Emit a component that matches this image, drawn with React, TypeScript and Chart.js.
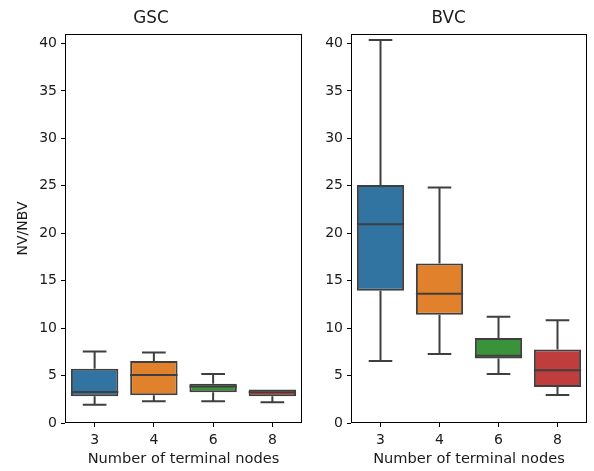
import React, { useEffect, useRef } from "react";
import { Chart, registerables } from "chart.js";

Chart.register(...registerables);

const categories = ["3", "4", "6", "8"];
const boxColors = ["#3274a1", "#e1812c", "#3a923a", "#c03d3e"];

// GSC panel
const gscLow = [1.93, 2.29, 2.29, 2.18];
const gscQ1 = [2.81, 2.92, 3.24, 2.81];
const gscMedian = [3.27, 5.07, 3.84, 3.24];
const gscQ3 = [5.73, 6.54, 4.15, 3.52];
const gscHigh = [7.53, 7.42, 5.17, 3.52];

// BVC panel
const bvcLow = [6.54, 7.28, 5.17, 2.95];
const bvcQ1 = [13.93, 11.4, 6.79, 3.8];
const bvcMedian = [20.96, 13.61, 7.1, 5.56];
const bvcQ3 = [25.08, 16.81, 8.97, 7.74];
const bvcHigh = [40.38, 24.83, 11.19, 10.83];

const yTicks = [0, 5, 10, 15, 20, 25, 30, 35, 40];
const yMin = 0;
const yMax = 41;

const FONT = "'DejaVu Sans', sans-serif";
const TEXT = "#1a1a1a";
const EDGE = "#3f3f3f";

type Panel = {
  title: string;
  low: number[];
  q1: number[];
  median: number[];
  q3: number[];
  high: number[];
  yTitle: string | null;
  yWidth: number;
  padRight: number;
};

function makeConfig(p: Panel): any {
  const boxPlugin = {
    id: "boxExtras",
    afterDatasetsDraw(chart: any) {
      const ctx = chart.ctx;
      const x = chart.scales.x;
      const y = chart.scales.y;
      const meta = chart.getDatasetMeta(0);
      ctx.save();
      ctx.strokeStyle = EDGE;
      ctx.lineWidth = 2;
      ctx.lineCap = "butt";
      categories.forEach((_, i) => {
        const bar = meta.data[i];
        const cx = x.getPixelForValue(i);
        const half = bar.width / 2;
        const capHalf = half / 2;
        const yLow = y.getPixelForValue(p.low[i]);
        const yQ1 = y.getPixelForValue(p.q1[i]);
        const yQ3 = y.getPixelForValue(p.q3[i]);
        const yHigh = y.getPixelForValue(p.high[i]);
        const yMed = y.getPixelForValue(p.median[i]);
        ctx.beginPath();
        // lower whisker
        ctx.moveTo(cx, yQ1);
        ctx.lineTo(cx, yLow);
        ctx.moveTo(cx - capHalf, yLow);
        ctx.lineTo(cx + capHalf, yLow);
        // upper whisker
        if (p.high[i] > p.q3[i]) {
          ctx.moveTo(cx, yQ3);
          ctx.lineTo(cx, yHigh);
          ctx.moveTo(cx - capHalf, yHigh);
          ctx.lineTo(cx + capHalf, yHigh);
        }
        // median
        ctx.moveTo(cx - half, yMed);
        ctx.lineTo(cx + half, yMed);
        ctx.stroke();
      });
      ctx.restore();
    },
    afterDraw(chart: any) {
      const a = chart.chartArea;
      const ctx = chart.ctx;
      ctx.save();
      ctx.strokeStyle = "#000000";
      ctx.lineWidth = 1;
      ctx.strokeRect(
        Math.round(a.left) + 0.5,
        Math.round(a.top) + 0.5,
        Math.round(a.right - a.left) - 1,
        Math.round(a.bottom - a.top) - 1
      );
      ctx.restore();
    },
  };

  return {
    type: "bar",
    data: {
      labels: categories,
      datasets: [
        {
          data: categories.map((_, i) => [p.q1[i], p.q3[i]]),
          backgroundColor: boxColors,
          borderColor: EDGE,
          borderWidth: 2,
          borderSkipped: false,
          barPercentage: 0.8,
          categoryPercentage: 1.0,
        },
      ],
    },
    options: {
      responsive: false,
      animation: false,
      devicePixelRatio: 1,
      layout: { padding: { left: 0, right: p.padRight, top: 0, bottom: 0 } },
      plugins: {
        legend: { display: false },
        tooltip: { enabled: false },
        title: {
          display: true,
          text: p.title,
          color: TEXT,
          font: { family: FONT, size: 16.8, weight: "normal", lineHeight: 1.2 },
          padding: { top: 9, bottom: 4.84 },
        },
      },
      scales: {
        x: {
          type: "category",
          offset: true,
          grid: {
            display: true,
            offset: false,
            drawOnChartArea: false,
            drawTicks: true,
            tickLength: 4,
            color: "#000000",
          },
          border: { display: false },
          ticks: { color: TEXT, font: { family: FONT, size: 14 }, padding: 4.5 },
          title: {
            display: true,
            text: "Number of terminal nodes",
            color: TEXT,
            font: { family: FONT, size: 14.6 },
            padding: { top: 2, bottom: 3.3 },
          },
          afterFit(s: any) {
            s.height = 48;
          },
        },
        y: {
          type: "linear",
          min: yMin,
          max: yMax,
          grid: {
            display: true,
            drawOnChartArea: false,
            drawTicks: true,
            tickLength: 4,
            color: "#000000",
          },
          border: { display: false },
          ticks: {
            color: TEXT,
            font: { family: FONT, size: 14 },
            padding: 4,
            stepSize: 5,
          },
          afterBuildTicks(s: any) {
            s.ticks = yTicks.map((v) => ({ value: v }));
          },
          title: {
            display: !!p.yTitle,
            text: p.yTitle || "",
            color: TEXT,
            font: { family: FONT, size: 14 },
            padding: { top: 15, bottom: 0 },
          },
          afterFit(s: any) {
            s.width = p.yWidth;
          },
        },
      },
    },
    plugins: [boxPlugin],
  };
}

function PanelChart({ panel, left, width }: { panel: Panel; left: number; width: number }) {
  const ref = useRef<HTMLCanvasElement | null>(null);
  useEffect(() => {
    if (!ref.current) return;
    const chart = new Chart(ref.current, makeConfig(panel));
    return () => chart.destroy();
  }, []);
  return (
    <canvas
      ref={ref}
      width={width}
      height={471}
      style={{ position: "absolute", left, top: 0, width, height: 471 }}
    />
  );
}

export default function App() {
  const gsc: Panel = {
    title: "GSC",
    low: gscLow,
    q1: gscQ1,
    median: gscMedian,
    q3: gscQ3,
    high: gscHigh,
    yTitle: "NV/NBV",
    yWidth: 65,
    padRight: 8,
  };
  const bvc: Panel = {
    title: "BVC",
    low: bvcLow,
    q1: bvcQ1,
    median: bvcMedian,
    q3: bvcQ3,
    high: bvcHigh,
    yTitle: null,
    yWidth: 41,
    padRight: 7,
  };
  return (
    <div
      style={{
        position: "absolute",
        left: 0,
        top: 0,
        width: 594,
        height: 471,
        background: "#ffffff",
        overflow: "hidden",
      }}
    >
      <PanelChart panel={gsc} left={0} width={310} />
      <PanelChart panel={bvc} left={310} width={284} />
    </div>
  );
}
